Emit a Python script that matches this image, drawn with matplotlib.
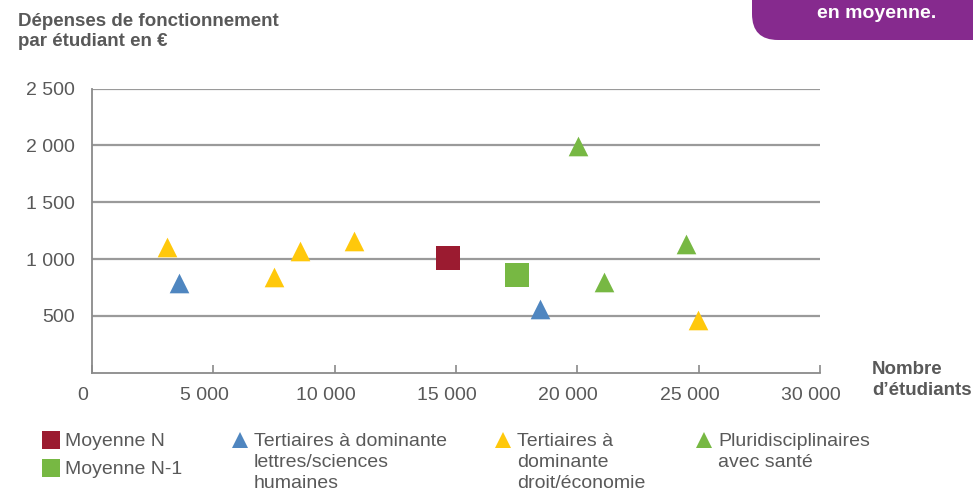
import matplotlib
matplotlib.use("Agg")
import matplotlib.pyplot as plt
from matplotlib.lines import Line2D
from matplotlib.patches import FancyBboxPatch
from matplotlib.ticker import FuncFormatter, FixedLocator
import matplotlib.transforms as mtransforms

plt.rcParams["font.family"] = ["Liberation Sans", "DejaVu Sans"]

GREY = "#595959"
C_RED = "#9B1B30"
C_GREEN = "#77B843"
C_BLUE = "#4F86C0"
C_YELLOW = "#FFC80B"
C_PURPLE = "#862A8E"

# nombre d'étudiants / dépenses de fonctionnement par étudiant (€)
lettres_x = [3570, 18470]
lettres_y = [785, 557]
droit_x = [3100, 7480, 8570, 10810, 24970]
droit_y = [1103, 846, 1069, 1162, 462]
sante_x = [20040, 24470, 21080]
sante_y = [1990, 1133, 797]
moy_n_x, moy_n_y = [14660], [1008]
moy_n1_x, moy_n1_y = [17500], [859]

x_ticks = [0, 5000, 10000, 15000, 20000, 25000, 30000]
y_ticks = [500, 1000, 1500, 2000, 2500]


def fr_num(v, pos=None):
    return f"{int(v):,}".replace(",", " ")


fig = plt.figure(figsize=(9.73, 4.9), dpi=100)
ax = fig.add_axes([92 / 973, 1 - 372.7 / 490, (820 - 92) / 973, (372.7 - 88.5) / 490])

tri = dict(marker="^", s=200, linewidths=0, zorder=3, clip_on=False)
sq = dict(marker="s", s=300, linewidths=0, zorder=3, clip_on=False)
ax.scatter(lettres_x, lettres_y, color=C_BLUE, **tri)
ax.scatter(droit_x, droit_y, color=C_YELLOW, **tri)
ax.scatter(sante_x, sante_y, color=C_GREEN, **tri)
ax.scatter(moy_n_x, moy_n_y, color=C_RED, **sq)
ax.scatter(moy_n1_x, moy_n1_y, color=C_GREEN, **sq)

ax.set_xlim(0, 30000)
ax.set_ylim(0, 2500)
ax.xaxis.set_major_locator(FixedLocator(x_ticks))
ax.yaxis.set_major_locator(FixedLocator(y_ticks))
ax.xaxis.set_major_formatter(FuncFormatter(fr_num))
ax.yaxis.set_major_formatter(FuncFormatter(fr_num))

ax.grid(axis="y", color="#9a9a9a", linewidth=1.6, zorder=1)
ax.set_axisbelow(True)
for side in ("top", "right"):
    ax.spines[side].set_visible(False)
for side in ("left", "bottom"):
    ax.spines[side].set_color("#8a8a8a")
    ax.spines[side].set_linewidth(1.3)

ax.tick_params(axis="x", direction="in", length=6, width=1.2, color="#8a8a8a",
               labelsize=14, labelcolor=GREY, pad=10)
ax.tick_params(axis="y", length=0, labelsize=14, labelcolor=GREY, pad=12)
shift = mtransforms.ScaledTranslation(-9 / 100, 0, fig.dpi_scale_trans)
for lbl in ax.get_xticklabels():
    lbl.set_transform(lbl.get_transform() + shift)

# titres des axes
fig.text(18 / 973, 1 - 13 / 490, "Dépenses de fonctionnement\npar étudiant en €",
         ha="left", va="top", fontsize=13.5, fontweight="bold", color=GREY,
         linespacing=1.2)
fig.text(872 / 973, 1 - 361 / 490, "Nombre\nd’étudiants", ha="left", va="top",
         fontsize=13.5, fontweight="bold", color=GREY, linespacing=1.32)

# encadré violet en haut à droite
box = FancyBboxPatch((752, 450), 300, 100, boxstyle="round,pad=0,rounding_size=26",
                     transform=None, facecolor=C_PURPLE, edgecolor="none")
fig.patches.append(box)
fig.text(877 / 973, 1 - 13 / 490, "en moyenne.", ha="center", va="center",
         fontsize=14, fontweight="bold", color="white")

# légende
legend_items = [
    (51, 440, "s", C_RED, 13, "Moyenne N"),
    (51, 468, "s", C_GREEN, 13, "Moyenne N-1"),
    (240, 440, "^", C_BLUE, 11, "Tertiaires à dominante\nlettres/sciences\nhumaines"),
    (503, 440, "^", C_YELLOW, 11, "Tertiaires à\ndominante\ndroit/économie"),
    (704, 440, "^", C_GREEN, 11, "Pluridisciplinaires\navec santé"),
]
for px, py, mk, col, ms, label in legend_items:
    fig.add_artist(Line2D([px / 973], [1 - py / 490], marker=mk, color=col,
                          markersize=ms, markeredgewidth=0, linestyle="none",
                          transform=fig.transFigure))
    fig.text((px + 14) / 973, 1 - (py - 7) / 490, label, ha="left", va="top",
             fontsize=14, color=GREY, linespacing=1.32)

fig.savefig("out.png", dpi=100)
